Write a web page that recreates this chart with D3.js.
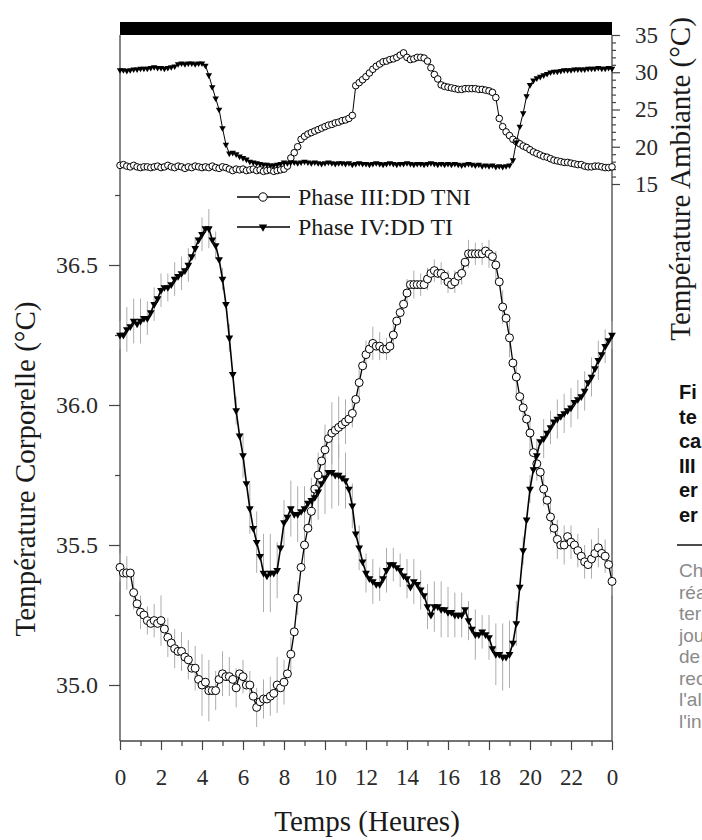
<!DOCTYPE html>
<html>
<head>
<meta charset="utf-8">
<script src="https://cdn.jsdelivr.net/npm/d3@7"></script>
<style>
	html, body { margin: 0; padding: 0; background: #fff; overflow: hidden; }
	svg { display: block; }
</style>
</head>
<body>
<svg id="chart" width="702" height="840"></svg>
<script>
// sampling every 10 minutes over 24 h
const STEP_HOURS = 1 / 6;

// body temperature, Phase IV : DD TI (filled triangles)
const bodyTI = [
	36.25, 36.25, 36.27, 36.28, 36.30, 36.29, 36.30, 36.31, 36.31, 36.33, 36.36, 36.38,
	36.41, 36.42, 36.42, 36.43, 36.45, 36.46, 36.47, 36.48, 36.50, 36.53, 36.56, 36.59,
	36.61, 36.63, 36.63, 36.59, 36.57, 36.52, 36.45, 36.36, 36.24, 36.11, 35.98, 35.89,
	35.82, 35.72, 35.63, 35.56, 35.51, 35.46, 35.40, 35.39, 35.40, 35.40, 35.41, 35.49,
	35.58, 35.60, 35.63, 35.61, 35.61, 35.62, 35.63, 35.65, 35.66, 35.67, 35.69, 35.72,
	35.74, 35.76, 35.76, 35.75, 35.75, 35.74, 35.73, 35.70, 35.64, 35.54, 35.49, 35.44,
	35.40, 35.38, 35.37, 35.36, 35.36, 35.38, 35.41, 35.43, 35.43, 35.42, 35.41, 35.39,
	35.38, 35.35, 35.37, 35.36, 35.34, 35.32, 35.28, 35.25, 35.28, 35.28, 35.27, 35.27,
	35.26, 35.26, 35.25, 35.25, 35.25, 35.27, 35.23, 35.20, 35.18, 35.18, 35.19, 35.18,
	35.17, 35.13, 35.11, 35.11, 35.10, 35.10, 35.11, 35.15, 35.22, 35.35, 35.48, 35.59,
	35.70, 35.77, 35.82, 35.87, 35.88, 35.90, 35.92, 35.94, 35.95, 35.96, 35.97, 35.98,
	35.99, 36.01, 36.02, 36.03, 36.05, 36.08, 36.10, 36.13, 36.16, 36.18, 36.21, 36.23,
	36.25
];
// SEM, one bar every 20 minutes
const errTI = [
	0.05, 0.08, 0.08, 0.08, 0.06, 0.06,
	0.06, 0.05, 0.06, 0.06, 0.06, 0.04,
	0.06, 0.07, 0.05, 0.04, 0.05, 0.05,
	0.08, 0.09, 0.11, 0.14, 0.14, 0.10,
	0.08, 0.10, 0.10, 0.08, 0.08, 0.10,
	0.13, 0.13, 0.11, 0.10, 0.08, 0.08,
	0.07, 0.08, 0.06, 0.08, 0.06, 0.06,
	0.07, 0.08, 0.07, 0.08, 0.09, 0.10,
	0.09, 0.08, 0.08, 0.07, 0.09, 0.06,
	0.08, 0.11, 0.12, 0.12, 0.08, 0.05,
	0.05, 0.06, 0.07, 0.06, 0.07, 0.07,
	0.07, 0.07, 0.07, 0.07, 0.07, 0.06,
	0.05
];

// body temperature, Phase III : DD TNI (open circles)
const bodyTNI = [
	35.42, 35.40, 35.40, 35.40, 35.33, 35.29, 35.26, 35.25, 35.23, 35.22, 35.23, 35.22,
	35.23, 35.20, 35.17, 35.15, 35.13, 35.12, 35.12, 35.10, 35.09, 35.06, 35.06, 35.02,
	35.00, 35.01, 34.98, 34.98, 34.98, 35.02, 35.04, 35.03, 35.03, 35.02, 34.99, 35.04,
	35.03, 35.00, 35.00, 34.96, 34.92, 34.94, 34.95, 34.95, 34.96, 34.97, 35.00, 34.99,
	35.01, 35.04, 35.11, 35.19, 35.31, 35.42, 35.50, 35.56, 35.62, 35.70, 35.75, 35.80,
	35.84, 35.88, 35.90, 35.91, 35.92, 35.93, 35.94, 35.95, 35.97, 36.02, 36.08, 36.14,
	36.18, 36.20, 36.22, 36.21, 36.21, 36.20, 36.20, 36.21, 36.25, 36.30, 36.33, 36.36,
	36.40, 36.43, 36.43, 36.43, 36.43, 36.43, 36.45, 36.47, 36.48, 36.47, 36.47, 36.46,
	36.44, 36.43, 36.44, 36.46, 36.47, 36.51, 36.54, 36.54, 36.54, 36.54, 36.54, 36.55,
	36.54, 36.53, 36.50, 36.44, 36.35, 36.31, 36.24, 36.15, 36.10, 36.03, 35.99, 35.95,
	35.90, 35.83, 35.79, 35.76, 35.70, 35.66, 35.60, 35.56, 35.52, 35.50, 35.50, 35.53,
	35.51, 35.50, 35.48, 35.46, 35.44, 35.43, 35.45, 35.47, 35.49, 35.47, 35.46, 35.43,
	35.37
];
const errTNI = [
	0.05, 0.06, 0.06, 0.06, 0.05, 0.06,
	0.09, 0.07, 0.07, 0.07, 0.07, 0.08,
	0.11, 0.11, 0.07, 0.08, 0.07, 0.07,
	0.06, 0.05, 0.07, 0.07, 0.07, 0.10,
	0.08, 0.06, 0.06, 0.07, 0.06, 0.08,
	0.09, 0.11, 0.11, 0.08, 0.05, 0.05,
	0.05, 0.06, 0.05, 0.04, 0.04, 0.04,
	0.05, 0.05, 0.04, 0.04, 0.04, 0.04,
	0.04, 0.04, 0.04, 0.05, 0.04, 0.04,
	0.05, 0.05, 0.06, 0.07, 0.06, 0.05,
	0.06, 0.06, 0.06, 0.06, 0.07, 0.07,
	0.06, 0.06, 0.06, 0.07, 0.07, 0.06,
	0.05
];

// ambient temperature, Phase IV : DD TI
const ambTI = [
	30.3, 30.3, 30.2, 30.3, 30.4, 30.4, 30.5, 30.5, 30.5, 30.6, 30.7, 30.6,
	30.6, 30.5, 30.6, 30.7, 30.8, 31.1, 31.2, 31.1, 31.2, 31.2, 31.1, 31.2,
	31.2, 30.9, 29.6, 28.0, 26.5, 25.0, 22.5, 20.3, 19.1, 19.2, 19.0, 18.7,
	18.5, 18.3, 18.0, 17.9, 17.8, 17.7, 17.6, 17.6, 17.5, 17.5, 17.6, 17.7,
	17.9, 17.8, 17.9, 17.9, 17.8, 17.9, 18.0, 17.9, 17.8, 17.9, 17.8, 17.7,
	17.8, 17.9, 17.8, 17.7, 17.8, 17.8, 17.7, 17.8, 17.6, 17.7, 17.8, 17.7,
	17.7, 17.6, 17.7, 17.8, 17.7, 17.6, 17.7, 17.8, 17.7, 17.6, 17.7, 17.7,
	17.8, 17.7, 17.6, 17.7, 17.7, 17.6, 17.7, 17.8, 17.7, 17.6, 17.7, 17.6,
	17.7, 17.6, 17.7, 17.6, 17.5, 17.6, 17.7, 17.6, 17.5, 17.6, 17.4, 17.5,
	17.4, 17.5, 17.3, 17.4, 17.3, 17.4, 17.5, 18.2, 20.6, 22.7, 24.5, 26.8,
	28.3, 28.9, 29.2, 29.4, 29.6, 29.8, 30.0, 30.1, 30.1, 30.2, 30.3, 30.3,
	30.3, 30.4, 30.4, 30.4, 30.4, 30.5, 30.5, 30.5, 30.6, 30.5, 30.5, 30.6,
	30.5
];

// ambient temperature, Phase III : DD TNI
const ambTNI = [
	17.5, 17.6, 17.4, 17.3, 17.5, 17.3, 17.2, 17.3, 17.3, 17.2, 17.3, 17.4,
	17.2, 17.3, 17.5, 17.3, 17.2, 17.4, 17.3, 17.1, 17.3, 17.2, 17.4, 17.3,
	17.2, 17.3, 17.2, 17.4, 17.2, 17.1, 17.3, 17.2, 17.0, 16.8, 17.0, 16.9,
	17.0, 16.8, 16.9, 17.0, 16.8, 16.9, 16.7, 16.8, 16.9, 16.7, 16.8, 16.9,
	17.0, 17.4, 18.5, 19.2, 20.0, 21.0, 21.4, 21.7, 21.9, 22.1, 22.3, 22.5,
	22.7, 22.9, 23.0, 23.2, 23.3, 23.5, 23.6, 23.8, 24.2, 28.2, 28.6, 29.0,
	29.4, 29.9, 30.4, 30.8, 31.1, 31.4, 31.5, 31.7, 31.8, 32.0, 32.3, 32.6,
	32.0, 31.7, 31.8, 32.0, 32.0, 31.9, 31.5, 30.6, 29.7, 29.1, 28.3, 28.1,
	28.0, 27.9, 27.8, 27.7, 27.7, 27.8, 27.8, 27.8, 27.8, 27.7, 27.7, 27.6,
	27.5, 27.3, 26.6, 23.8, 22.7, 22.0, 21.5, 21.0, 20.7, 20.4, 20.1, 19.9,
	19.6, 19.3, 19.1, 18.9, 18.7, 18.6, 18.4, 18.2, 18.1, 18.0, 17.9, 17.9,
	17.8, 17.7, 17.6, 17.6, 17.4, 17.3, 17.3, 17.4, 17.4, 17.3, 17.2, 17.2,
	17.3
];

const hourTicks = [0, 2, 4, 6, 8, 10, 12, 14, 16, 18, 20, 22, 24];
const bodyTicks = [35.0, 35.5, 36.0, 36.5];
const bodyMinorTicks = [35.25, 35.75, 36.25, 36.75];
const ambTicks = [15, 20, 25, 30, 35];
const darkPeriod = [0, 24];
const legendLabels = ["Phase III:DD TNI", "Phase IV:DD TI"];

// clipped caption of the page, right edge
const captionBold = ["Fi", "te", "ca", "III", "er", "er"];
const captionGray = ["Ch", "réa", "ter", "jou", "de", "rec", "l'al", "l'in"];

const SERIF = "'Liberation Serif', 'Times New Roman', serif";
const SANS = "'Liberation Sans', Arial, sans-serif";

const
	plotLeft = 120,
	plotRight = 612,
	plotTop = 35,
	plotBottom = 741;

const times = bodyTI.map((d, i) => i * STEP_HOURS);
const errTimes = errTI.map((d, i) => i * STEP_HOURS * 2);

const svg = d3.select("#chart");

const x = d3.scaleLinear().domain([0, 24]).range([plotLeft, plotRight]);
const yBody = d3.scaleLinear().domain([34.8, 37.3]).range([plotBottom, 41]);
const yAmb = d3.scaleLinear().domain([15, 35]).range([184, plotTop]);

const triangle = (size) => d3.symbol().type(d3.symbolTriangle).size(size)();

function styleAxis(g, fontSize) {
	g.select(".domain").remove();
	g.selectAll(".tick line").attr("stroke", "#444").attr("stroke-width", 1.2);
	g.selectAll(".tick text")
		.attr("fill", "#2a2a2a")
		.style("font-family", SERIF)
		.style("font-size", fontSize + "px");
}

function renderFrame() {
	svg.append("rect")
		.attr("x", x(darkPeriod[0]))
		.attr("y", 22)
		.attr("width", x(darkPeriod[1]) - x(darkPeriod[0]))
		.attr("height", plotTop - 22)
		.attr("fill", "black");

	const frame = svg.append("g").attr("stroke", "#444").attr("stroke-width", 1.3);
	frame.append("line").attr("x1", plotLeft).attr("x2", plotLeft).attr("y1", plotTop).attr("y2", plotBottom);
	frame.append("line").attr("x1", plotRight).attr("x2", plotRight).attr("y1", plotTop).attr("y2", plotBottom);
	frame.append("line").attr("x1", plotLeft).attr("x2", plotRight).attr("y1", plotBottom).attr("y2", plotBottom);
}

function renderAxes() {
	// x axis
	svg.append("g")
		.attr("transform", `translate(0,${plotBottom})`)
		.call(d3.axisBottom(x).tickValues(hourTicks).tickSize(9).tickSizeOuter(0).tickPadding(19)
			.tickFormat(d => d % 24))
		.call(g => styleAxis(g, 23));
	svg.append("g")
		.attr("transform", `translate(0,${plotBottom})`)
		.call(d3.axisBottom(x).tickValues(d3.range(1, 24, 2)).tickSize(5).tickFormat(""))
		.call(g => styleAxis(g, 23));

	// left axis: body temperature
	svg.append("g")
		.attr("transform", `translate(${plotLeft},0)`)
		.call(d3.axisLeft(yBody).tickValues(bodyTicks).tickSize(11).tickPadding(11)
			.tickFormat(d3.format(".1f")))
		.call(g => styleAxis(g, 24));
	svg.append("g")
		.attr("transform", `translate(${plotLeft},0)`)
		.call(d3.axisLeft(yBody).tickValues(bodyMinorTicks).tickSize(5).tickFormat(""))
		.call(g => styleAxis(g, 24));

	// right axis: ambient temperature
	svg.append("g")
		.attr("transform", `translate(${plotRight},0)`)
		.call(d3.axisRight(yAmb).tickValues(ambTicks).tickSize(8).tickPadding(15))
		.call(g => styleAxis(g, 23));
	svg.append("g")
		.attr("transform", `translate(${plotRight},0)`)
		.call(d3.axisRight(yAmb).tickValues(d3.range(16, 35).filter(d => d % 5 !== 0)).tickSize(4).tickFormat(""))
		.call(g => styleAxis(g, 23));

	// titles
	svg.append("text")
		.attr("x", (plotLeft + plotRight) / 2 + 1)
		.attr("y", 831)
		.attr("text-anchor", "middle")
		.style("font-family", SERIF)
		.style("font-size", "29px")
		.attr("fill", "#1a1a1a")
		.text("Temps (Heures)");

	svg.append("text")
		.attr("transform", "translate(35,469) rotate(-90)")
		.attr("text-anchor", "middle")
		.style("font-family", SERIF)
		.style("font-size", "29px")
		.attr("fill", "#1a1a1a")
		.text("Température Corporelle (°C)");

	svg.append("text")
		.attr("transform", "translate(690,179) rotate(-90)")
		.attr("text-anchor", "middle")
		.style("font-family", SERIF)
		.style("font-size", "29px")
		.attr("fill", "#1a1a1a")
		.text("Température Ambiante (°C)");
}

function renderErrorBars(values, errors) {
	svg.append("g")
		.attr("stroke", "#adadad")
		.attr("stroke-width", 1)
		.selectAll("line")
		.data(errors)
		.enter()
		.append("line")
		.attr("x1", (e, i) => x(errTimes[i]))
		.attr("x2", (e, i) => x(errTimes[i]))
		.attr("y1", (e, i) => yBody(values[i * 2] - e))
		.attr("y2", (e, i) => yBody(values[i * 2] + e));
}

function renderSeries(values, y, kind, markerSize, lineWidth) {
	const line = d3.line()
		.x((d, i) => x(times[i]))
		.y(d => y(d));

	svg.append("path")
		.datum(values)
		.attr("d", line)
		.attr("fill", "none")
		.attr("stroke", "black")
		.attr("stroke-width", lineWidth);

	const g = svg.append("g");
	if (kind === "circle") {
		g.selectAll("circle")
			.data(values)
			.enter()
			.append("circle")
			.attr("cx", (d, i) => x(times[i]))
			.attr("cy", d => y(d))
			.attr("r", markerSize)
			.attr("fill", "white")
			.attr("stroke", "black")
			.attr("stroke-width", 1);
	} else {
		g.selectAll("path")
			.data(values)
			.enter()
			.append("path")
			.attr("d", triangle(markerSize))
			.attr("transform", (d, i) => `translate(${x(times[i])},${y(d)}) rotate(180)`)
			.attr("fill", "black");
	}
}

function renderLegend() {
	const kinds = ["circle", "triangle"];
	const rows = [197, 227];

	legendLabels.forEach((label, i) => {
		const g = svg.append("g").attr("transform", `translate(0,${rows[i]})`);
		g.append("line")
			.attr("x1", 237)
			.attr("x2", 290)
			.attr("stroke", "black")
			.attr("stroke-width", 1.4);
		if (kinds[i] === "circle") {
			g.append("circle")
				.attr("cx", 263)
				.attr("r", 4.2)
				.attr("fill", "white")
				.attr("stroke", "black");
		} else {
			g.append("path")
				.attr("d", triangle(30))
				.attr("transform", "translate(263,0) rotate(180)")
				.attr("fill", "black");
		}
		g.append("text")
			.attr("x", 298)
			.attr("y", 8)
			.style("font-family", SERIF)
			.style("font-size", "24px")
			.attr("fill", "#1a1a1a")
			.text(label);
	});
}

function renderCaption() {
	captionBold.forEach((t, i) => {
		svg.append("text")
			.attr("x", 679)
			.attr("y", 399 + i * 24.5)
			.style("font-family", SANS)
			.style("font-weight", "bold")
			.style("font-size", "20px")
			.attr("fill", "#111")
			.text(t);
	});

	svg.append("line")
		.attr("x1", 677)
		.attr("x2", 702)
		.attr("y1", 545)
		.attr("y2", 545)
		.attr("stroke", "#111")
		.attr("stroke-width", 1.5);

	captionGray.forEach((t, i) => {
		svg.append("text")
			.attr("x", 679)
			.attr("y", 577 + i * 21.5)
			.style("font-family", SANS)
			.style("font-size", "19px")
			.attr("fill", "#8a8a8a")
			.text(t);
	});
}

renderFrame();
renderAxes();
renderErrorBars(bodyTI, errTI);
renderErrorBars(bodyTNI, errTNI);
renderSeries(ambTNI, yAmb, "circle", 3.3, 1);
renderSeries(ambTI, yAmb, "triangle", 18, 1);
renderSeries(bodyTNI, yBody, "circle", 4, 1.3);
renderSeries(bodyTI, yBody, "triangle", 26, 1.6);
renderLegend();
renderCaption();
</script>
</body>
</html>
